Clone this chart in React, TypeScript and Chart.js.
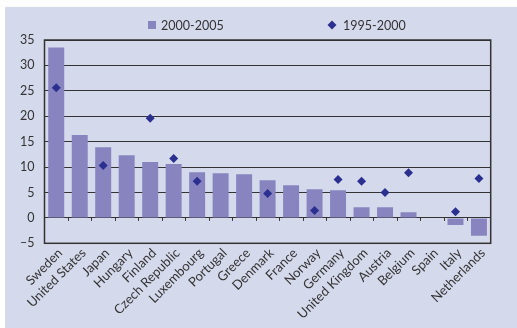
import React, { useEffect, useRef } from "react";
import { Chart, registerables } from "chart.js";

Chart.register(...registerables);

const categories = [
  "Sweden", "United States", "Japan", "Hungary", "Finland", "Czech Republic",
  "Luxembourg", "Portugal", "Greece", "Denmark", "France", "Norway", "Germany",
  "United Kingdom", "Austria", "Belgium", "Spain", "Italy", "Netherlands",
];
const series2000_2005 = [
  33.5, 16.3, 13.9, 12.3, 11.0, 10.6, 9.0, 8.8, 8.6, 7.4, 6.4, 5.65, 5.45,
  2.1, 2.1, 1.1, 0, -1.4, -3.5,
];
const series1995_2000: (number | null)[] = [
  25.6, null, 10.3, null, 19.6, 11.7, 7.2, null, null, 4.8, null, 1.45, 7.55,
  7.2, 5.0, 8.9, null, 1.2, 7.75,
];
const yTicks = [-5, 0, 5, 10, 15, 20, 25, 30, 35];

const BG = "#d5d9ec";
const BAR = "#8884bf";
const MARK = "#2b3090";
const LINE = "#333333";
const TEXT = "#333333";
const FONT = "Lato, 'Open Sans', sans-serif";

const W = 517;
const H = 328;
const PLOT_L = 44.5;
const PLOT_R = 490.7;
const PLOT_T = 40;
const PLOT_B = 243.3;

export default function App() {
  const ref = useRef<HTMLCanvasElement | null>(null);
  useEffect(() => {
    if (!ref.current) return;
    const bgPlugin = {
      id: "bgPlugin",
      beforeDraw(chart: any) {
        const ctx = chart.ctx;
        ctx.save();
        ctx.fillStyle = "#ffffff";
        ctx.fillRect(0, 0, W, H);
        ctx.fillStyle = BG;
        ctx.fillRect(5, 7, W - 5, H - 7);
        ctx.restore();
      },
      afterDraw(chart: any) {
        const ctx = chart.ctx;
        const a = chart.chartArea;
        const y = chart.scales.y;
        ctx.save();
        // border
        ctx.strokeStyle = LINE;
        ctx.lineWidth = 1.5;
        ctx.strokeRect(a.left, a.top, a.right - a.left, a.bottom - a.top);
        // ticks on zero line at category boundaries
        const y0 = y.getPixelForValue(0);
        ctx.lineWidth = 1;
        const n = categories.length;
        const step = (a.right - a.left) / n;
        for (let i = 1; i < n; i++) {
          const px = Math.round(a.left + step * i) + 0.5;
          ctx.beginPath();
          ctx.moveTo(px, y0);
          ctx.lineTo(px, y0 + 3);
          ctx.stroke();
        }
        // legend
        ctx.font = `12.5px ${FONT}`;
        ctx.textBaseline = "middle";
        ctx.textAlign = "left";
        const ds0 = chart.data.datasets[0];
        const ds1 = chart.data.datasets[1];
        ctx.fillStyle = BAR;
        ctx.fillRect(148, 21, 8, 8);
        ctx.fillStyle = TEXT;
        ctx.fillText(ds0.label, 161, 25.5);
        ctx.fillStyle = MARK;
        ctx.beginPath();
        ctx.moveTo(332, 20.5);
        ctx.lineTo(336.5, 25);
        ctx.lineTo(332, 29.5);
        ctx.lineTo(327.5, 25);
        ctx.closePath();
        ctx.fill();
        ctx.fillStyle = TEXT;
        ctx.fillText(ds1.label, 343, 25.5);
        ctx.restore();
      },
    };
    const chart = new Chart(ref.current, {
      type: "bar",
      data: {
        labels: categories,
        datasets: [
          {
            type: "bar",
            label: "2000-2005",
            data: series2000_2005,
            backgroundColor: BAR,
            borderWidth: 0,
            categoryPercentage: 1,
            barPercentage: 0.68,
            order: 2,
          },
          {
            type: "line",
            label: "1995-2000",
            data: series1995_2000,
            showLine: false,
            pointStyle: "rectRot",
            pointRadius: 4.5,
            pointBackgroundColor: MARK,
            pointBorderColor: MARK,
            pointBorderWidth: 0,
            order: 1,
          } as any,
        ],
      },
      options: {
        responsive: false,
        animation: false,
        events: [],
        layout: {
          padding: { left: 0, top: PLOT_T, right: W - PLOT_R, bottom: 0 },
        },
        plugins: {
          legend: { display: false },
          tooltip: { enabled: false },
        },
        scales: {
          x: {
            offset: true,
            grid: { display: false, drawTicks: false },
            border: { display: false },
            ticks: {
              autoSkip: false,
              maxRotation: 45,
              minRotation: 45,
              padding: 2,
              labelOffset: 4,
              color: TEXT,
              font: { family: FONT, size: 13 },
            },
            afterFit(scale: any) {
              scale.height = H - PLOT_B;
            },
          },
          y: {
            min: -5,
            max: 35,
            afterBuildTicks(scale: any) {
              scale.ticks = yTicks.map((v) => ({ value: v }));
            },
            grid: { color: LINE, lineWidth: 1, drawTicks: false },
            border: { display: false },
            ticks: {
              padding: 10,
              color: TEXT,
              font: { family: FONT, size: 12.5 },
              callback: (v: any) => (Number(v) < 0 ? "–" + Math.abs(Number(v)) : String(v)),
            },
            afterFit(scale: any) {
              scale.width = PLOT_L;
            },
          },
        },
      },
      plugins: [bgPlugin],
    });
    return () => chart.destroy();
  }, []);
  return (
    <div style={{ position: "fixed", left: 0, top: 0, width: W, height: H, background: "#fff" }}>
      <canvas ref={ref} width={W} height={H} style={{ display: "block", width: W, height: H }} />
    </div>
  );
}
